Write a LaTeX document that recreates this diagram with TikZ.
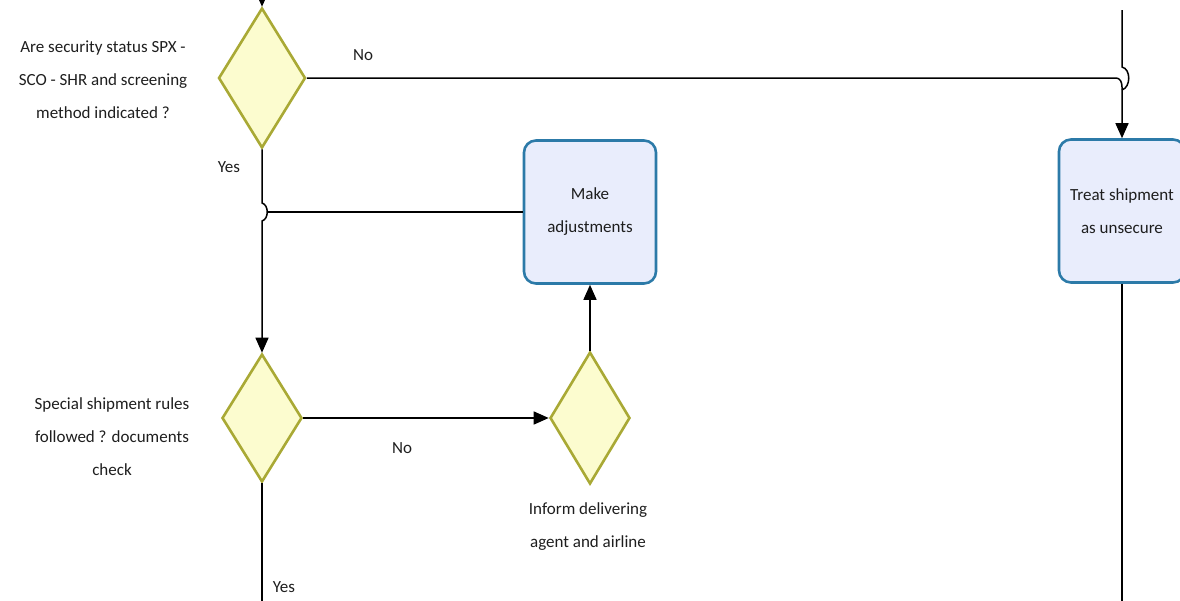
\documentclass[tikz,border=0pt]{standalone}
\usepackage{fontspec}
\setmainfont{Carlito}
\usetikzlibrary{shapes.geometric,arrows.meta}
\definecolor{decfill}{HTML}{FCFCCF}
\definecolor{decline}{HTML}{A9A935}
\definecolor{actfill}{HTML}{E9EDFC}
\definecolor{actline}{HTML}{2C7AA8}
\definecolor{txt}{HTML}{1E1E1E}
\tikzset{
  decision/.style={diamond, draw=decline, fill=decfill, line width=2.6pt,
    minimum width=#1, inner sep=0pt},
  action/.style={rectangle, rounded corners=12pt, draw=actline, fill=actfill,
    line width=2.6pt, align=center, text=txt, font=\fontsize{17}{33}\selectfont},
  note/.style={align=center, text=txt, font=\fontsize{17}{33}\selectfont},
  flow/.style={line width=1.5pt, black},
  arrowed/.style={flow, -{Triangle[length=15pt,width=13pt]}},
}
\begin{document}
\begin{tikzpicture}[x=1pt,y=-1pt]
\useasboundingbox (0,0) rectangle (1180,600);
\clip (0,0) rectangle (1180,600);

% decisions
\node[decision=87pt, minimum height=140pt] (d1) at (262,78) {};
\node[decision=80pt, minimum height=128pt] (d2) at (262,418) {};
\node[decision=80pt, minimum height=132pt] (d3) at (590,418) {};

% actions
\node[action, minimum width=132pt, minimum height=143pt] (adj) at (590,212) {Make\\adjustments};
\node[action, minimum width=126pt, minimum height=143pt] (unsec) at (1122,211) {Treat shipment\\as unsecure};

% question texts
\node[note] (q1) at (103,80) {Are security status SPX -\\SCO - SHR and screening\\method indicated ?};
\node[note] (q2) at (112,437) {Special shipment rules\\followed ? documents\\check};
\node[note] (q3) at (588,527) {Inform delivering\\agent and airline};

% branch labels
\node[note] (l1no) at (363,55) {No};
\node[note] (l1yes) at (229,167) {Yes};
\node[note] (l2no) at (402,448) {No};
\node[note] (l2yes) at (284,587) {Yes};

% hop points and open ends
\coordinate (intop) at (262,-30);
\coordinate (rtop) at (1122,10);
\coordinate (rbot) at (1122,620);
\coordinate (lbot) at (262,620);

% incoming flow from above
\draw[arrowed] (intop) -- (d1.north);

% "No" branch of the first decision
\draw[arrowed] (d1.east) -- (1116,78) .. controls (1120,78) and (1122,82) .. (1122,87) -- (unsec.north);
% line from above hopping over the junction
\draw[flow] (rtop) -- (1122,67) .. controls (1131,69) and (1131,87) .. (1122,90);
% continuation below the unsecure box
\draw[flow] (unsec.south) -- (rbot);

% "Yes" branch with hop over the return from adjustments
\draw[arrowed] (d1.south) -- (262,203) .. controls (269,205) and (269,219) .. (262,221) -- (d2.north);
\draw[flow] (adj.west) -- (267,212);

% second decision
\draw[arrowed] (d2.east) -- (d3.west);
\draw[flow] (d2.south) -- (lbot);
\draw[arrowed] (d3.north) -- (adj.south);
\end{tikzpicture}
\end{document}
